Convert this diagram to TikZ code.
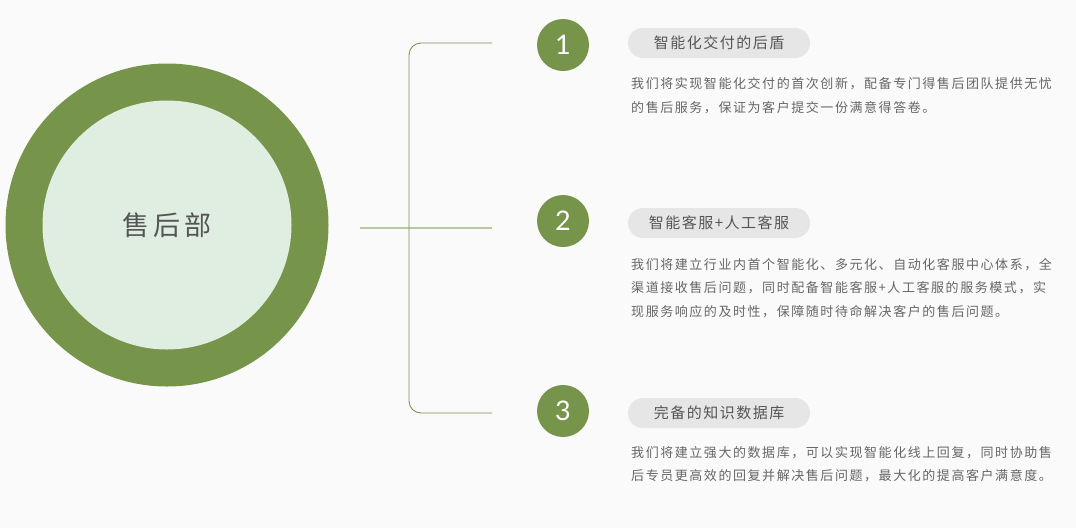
\documentclass[tikz,border=0pt]{standalone}
\usepackage{fontspec}
\setmainfont{Noto Sans CJK SC}
\newfontfamily\titlefont[LetterSpace=10]{Noto Sans CJK SC}
\newfontfamily\bodyfont[LetterSpace=12]{Noto Sans CJK SC}
\newfontfamily\numfont{Lato}
\usetikzlibrary{positioning}

\definecolor{leaf}{RGB}{118,148,74}
\definecolor{leafline}{RGB}{122,150,80}
\definecolor{leafpale}{RGB}{182,201,160}
\definecolor{mint}{RGB}{223,238,225}
\definecolor{pill}{RGB}{230,230,230}
\definecolor{bg}{RGB}{250,250,250}
\definecolor{ink}{RGB}{85,85,85}
\definecolor{body}{RGB}{102,102,102}

\tikzset{
  numdot/.style={circle, fill=leaf, minimum size=52pt, inner sep=0pt, text=white,
    font=\numfont\fontsize{27}{27}\selectfont},
  tag/.style={rounded corners=15pt, fill=pill, minimum width=182pt, minimum height=30pt,
    inner sep=0pt, text=ink, font=\titlefont\fontsize{15}{18}\selectfont},
  line/.style={anchor=west, inner sep=0pt, text=body, font=\bodyfont\fontsize{13}{15}\selectfont}
}

\begin{document}
\begin{tikzpicture}[x=1pt, y=-1pt]
    \fill[bg] (0,0) rectangle (1076,528);
    \useasboundingbox (0,0) rectangle (1076,528);

    % hub
    \node[circle, fill=leaf, minimum size=323pt, inner sep=0pt] (ring) at (167,225) {};
    \node[circle, fill=mint, minimum size=249pt, inner sep=0pt, text=ink,
      font=\fontsize{27}{30}\selectfont] (hub) at (167,225) {售\,后\,部};

    % bracket
    \coordinate (stem) at (360,228);
    \coordinate (b1) at (492,43);
    \coordinate (b2) at (492,228);
    \coordinate (b3) at (492,413);
    \draw[leafpale, line width=1.6pt] (stem) -- (b2);
    \draw[leafline, line width=0.9pt, rounded corners=12pt] (b1) -- (409,43) -- (409,413) -- (b3);

    % item 1
    \node[numdot] (n1) at (563,45) {1};
    \node[tag] (t1) at (719,43) {智能化交付的后盾};
    \node[line] (l11) at (631,84) {我们将实现智能化交付的首次创新，配备专门得售后团队提供无忧};
    \node[line] (l12) at (631,107.5) {的售后服务，保证为客户提交一份满意得答卷。};

    % item 2
    \node[numdot] (n2) at (563,221) {2};
    \node[tag] (t2) at (719,223) {智能客服+人工客服};
    \node[line] (l21) at (631,264.5) {我们将建立行业内首个智能化、多元化、自动化客服中心体系，全};
    \node[line] (l22) at (631,288) {渠道接收售后问题，同时配备智能客服+人工客服的服务模式，实};
    \node[line] (l23) at (631,311.5) {现服务响应的及时性，保障随时待命解决客户的售后问题。};

    % item 3
    \node[numdot] (n3) at (563,411) {3};
    \node[tag] (t3) at (719,413) {完备的知识数据库};
    \node[line] (l31) at (631,452.5) {我们将建立强大的数据库，可以实现智能化线上回复，同时协助售};
    \node[line] (l32) at (631,476) {后专员更高效的回复并解决售后问题，最大化的提高客户满意度。};
\end{tikzpicture}
\end{document}
